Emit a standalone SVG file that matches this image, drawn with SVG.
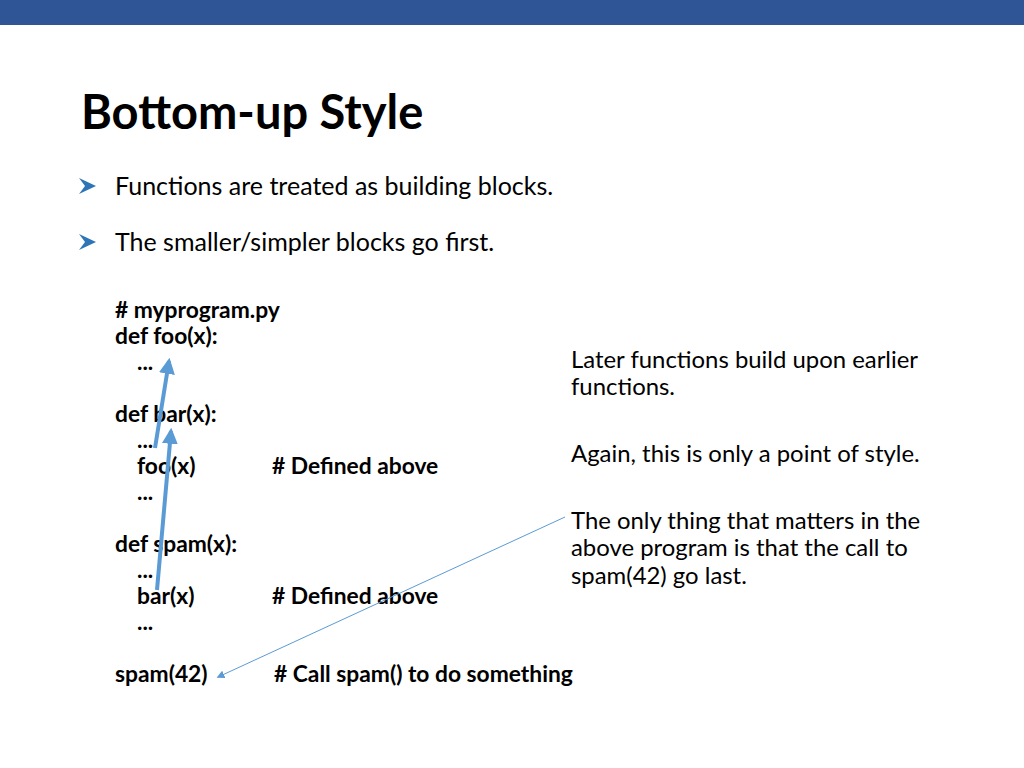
<svg xmlns="http://www.w3.org/2000/svg" width="1024" height="768" viewBox="0 0 1024 768">
<style>
text{font-family:Lato,"Open Sans",sans-serif;fill:#000}
.c{font-size:22.8px;font-weight:bold}
.n{font-size:23.9px}
.t{font-size:25px}
.b{fill:#2e75b6}
</style>
<defs>
<marker id="ah" viewBox="0 0 10 10" refX="8" refY="5" markerWidth="4" markerHeight="4" orient="auto"><path d="M0,0L10,5L0,10z" fill="#5b9bd5"/></marker>
<marker id="ah2" viewBox="0 0 10 10" refX="8" refY="5" markerWidth="8" markerHeight="8" orient="auto"><path d="M0,0L10,5L0,10z" fill="#5b9bd5"/></marker>
</defs>
<rect width="1024" height="25" fill="#2f5597"/>
<text x="81" y="129" style="font-size:47px;font-weight:bold">Bottom-up Style</text>
<g id="bullets">
<path d="M79,178L96,186L79,194L85,186z" class="b"/>
<path d="M79,234L96,242L79,250L85,242z" class="b"/>
<text x="115" y="195" class="t">Functions are treated as building blocks.</text>
<text x="115" y="251" class="t">The smaller/simpler blocks go first.</text>
</g>
<g id="code">
<text x="115" y="318" class="c"># myprogram.py</text>
<text x="115" y="344" class="c">def foo(x):</text>
<text x="137" y="370" class="c">...</text>
<text x="115" y="422" class="c">def bar(x):</text>
<text x="137" y="448" class="c">...</text>
<text x="137" y="474" class="c">foo(x)</text>
<text x="272" y="474" class="c"># Defined above</text>
<text x="137" y="500" class="c">...</text>
<text x="115" y="552" class="c">def spam(x):</text>
<text x="137" y="578" class="c">...</text>
<text x="137" y="604" class="c">bar(x)</text>
<text x="272" y="604" class="c"># Defined above</text>
<text x="137" y="630" class="c">...</text>
<text x="115" y="682" class="c">spam(42)</text>
<text x="274" y="682" class="c"># Call spam() to do something</text>
</g>
<g id="notes">
<text x="571" y="368" class="n">Later functions build upon earlier</text>
<text x="571" y="395" class="n">functions.</text>
<text x="571" y="462" class="n">Again, this is only a point of style.</text>
<text x="571" y="529" class="n">The only thing that matters in the</text>
<text x="571" y="556" class="n">above program is that the call to</text>
<text x="571" y="584" class="n">spam(42) go last.</text>
</g>
<g id="connectors" fill="none" stroke="#5b9bd5">
<line x1="155" y1="448" x2="169" y2="361" stroke-width="4" marker-end="url(#ah)"/>
<line x1="157" y1="590" x2="171" y2="431" stroke-width="4" marker-end="url(#ah)"/>
<line x1="565" y1="517" x2="218" y2="677" stroke-width="1" marker-end="url(#ah2)"/>
</g>
</svg>
